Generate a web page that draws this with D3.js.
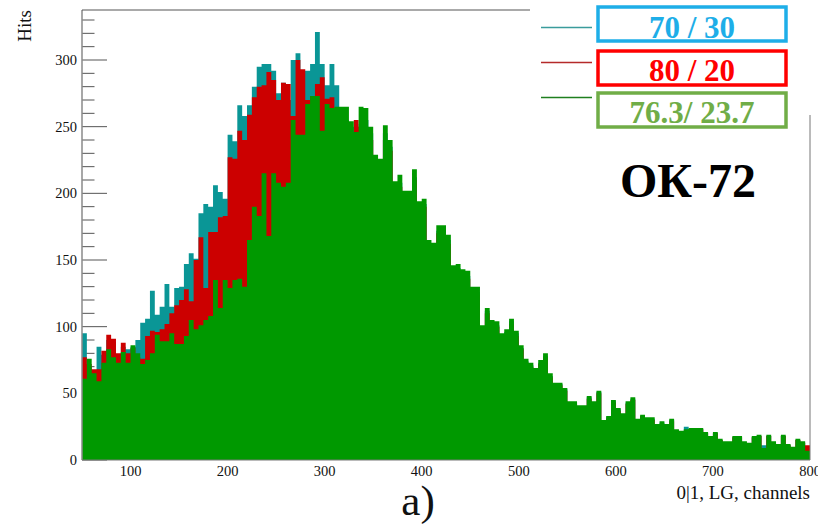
<!DOCTYPE html>
<html><head><meta charset="utf-8">
<script src="https://cdn.jsdelivr.net/npm/d3@7"></script>
<style>
body{margin:0;background:#fff}
svg{display:block}
text{font-family:"Liberation Serif","Times New Roman",serif}
</style>
</head><body>
<svg id="c" width="818" height="526"></svg>
<script>
// ---- data ----
const binLow = 50, binWidth = 5;
const xTicks = [100, 200, 300, 400, 500, 600, 700, 800];
const yMajorTicks = [0, 50, 100, 150, 200, 250, 300];
const seriesNames = ["70 / 30", "80 / 20", "76.3/ 23.7"];
const sampleLabel = "ОК-72";
const xTitle = "0|1, LG, channels";
const yTitle = "Hits";
const panelLabel = "a)";

const teal = [95,70,66,85,79,90,88,77,85,83, 85,90,103,106,127,109,115,132,115,129,
 130,147,155,151,185,192,190,206,201,196, 244,239,266,258,266,280,295,297,297,292,
 275,283,270,300,305,292,292,297,321,297, 281,297,281,262,255,250,250,252,255,245,
 225,222,245,235,205,208,198,200,212,190, 192,162,160,172,170,165,142,144,140,138,
 127,126,99,112,102,101,93,96,104,95, 84,74,71,67,73,78,63,57,57,53,
 43,43,40,40,47,43,51,29,32,44, 38,34,43,46,30,33,31,31,26,28,
 26,30,22,21,25,23,23,23,20,17, 20,15,13,13,17,17,13,12,17,18,
 11,18,13,11,18,11,9,15,13,10];
const red = [77,72,68,68,82,94,91,80,88,80, 84,77,76,93,97,96,98,102,110,116,
 120,128,119,150,167,129,171,171,182,183, 227,226,247,240,259,272,280,281,291,285,
 270,283,282,258,300,293,270,273,282,287, 271,272,260,255,250,246,255,250,250,240,
 220,220,240,232,200,205,195,196,210,188, 190,160,158,170,168,162,140,142,138,136,
 125,124,97,110,100,100,92,94,102,93, 83,73,70,66,72,77,62,56,56,52,
 42,42,39,39,46,42,50,29,31,43, 37,33,42,45,30,33,30,30,26,27,
 26,29,22,21,22,23,23,23,20,17, 20,15,13,13,17,17,13,12,17,18,
 8,18,13,11,18,11,9,15,13,11];
const green = [61,76,65,59,73,83,77,73,81,73, 86,80,72,75,80,94,89,89,95,87,
 87,93,105,98,101,105,108,135,114,135, 129,135,136,130,165,190,183,215,168,215,
 208,205,208,255,244,244,267,273,273,247, 267,264,265,265,265,254,246,265,264,250,
 229,226,251,240,209,214,202,202,218,194, 196,165,163,176,176,169,146,147,143,142,
 130,130,101,114,105,104,95,98,106,97, 86,76,73,69,75,80,65,58,58,54,
 44,44,41,41,48,44,52,30,33,45, 39,35,44,47,31,34,32,32,27,29,
 27,31,23,22,23,24,24,24,21,18, 21,16,14,14,18,18,14,13,18,19,
 9,19,14,12,19,12,10,16,14,7];

// ---- layout ----
const svg = d3.select("#c");
const x = d3.scaleLinear().domain([50, 800]).range([82, 810]);
const y = d3.scaleLinear().domain([0, 337.5]).range([460, 10]);

const fillColors = ["#0a9696", "#cc0000", "#009900"];
const lineColors = ["#3a9c9c", "#b52a2a", "#1f7f1f"];
const boxColors = ["#1eaee8", "#ff0000", "#70ad47"];

// y ticks (under bars)
const minorTicks = d3.range(0, 331, 10);
svg.append("g").selectAll("line").data(minorTicks).join("line")
  .attr("x1", x(50)).attr("x2", d => x(50) + (d % 50 === 0 ? 25 : 12.5))
  .attr("y1", d => y(d)).attr("y2", d => y(d))
  .attr("stroke", "#555").attr("stroke-width", 1);

// histograms
function stepData(vals) {
  const pts = vals.map((v, i) => ({e: binLow + i * binWidth, v}));
  pts.push({e: binLow + vals.length * binWidth, v: vals[vals.length - 1]});
  return pts;
}
const area = d3.area().curve(d3.curveStepAfter)
  .x(d => x(d.e)).y0(y(0)).y1(d => y(d.v));
[teal, red, green].forEach((s, k) => {
  svg.append("path").datum(stepData(s)).attr("d", area)
    .attr("fill", fillColors[k]).attr("stroke", "none");
});

// frame lines
svg.append("line").attr("x1", x(50)).attr("x2", x(50)).attr("y1", 10).attr("y2", 460)
  .attr("stroke", "#8a8a8a").attr("stroke-width", 1.5);
svg.append("line").attr("x1", x(50)).attr("x2", 530).attr("y1", 10).attr("y2", 10)
  .attr("stroke", "#555").attr("stroke-width", 1);
svg.append("line").attr("x1", x(50)).attr("x2", x(800)).attr("y1", 460).attr("y2", 460)
  .attr("stroke", "#777").attr("stroke-width", 1);
svg.append("line").attr("x1", x(800)).attr("x2", x(800)).attr("y1", 115).attr("y2", 460)
  .attr("stroke", "#777").attr("stroke-width", 1);

// y labels
svg.append("g").selectAll("text").data(yMajorTicks).join("text")
  .attr("x", 77).attr("y", d => y(d)).attr("dy", "0.35em")
  .attr("text-anchor", "end").attr("font-size", 14.5).attr("fill", "#111")
  .text(d => d);
// x labels
svg.append("g").selectAll("text").data(xTicks).join("text")
  .attr("x", d => x(d)).attr("y", 476)
  .attr("text-anchor", "middle").attr("font-size", 14.5).attr("fill", "#111")
  .text(d => d);

// titles
svg.append("text").attr("transform", "translate(31,10) rotate(-90)")
  .attr("text-anchor", "end").attr("font-size", 19).attr("fill", "#111").text(yTitle);
svg.append("text").attr("x", 810).attr("y", 499).attr("text-anchor", "end")
  .attr("font-size", 19).attr("fill", "#111").text(xTitle);
svg.append("text").attr("x", 418).attr("y", 515).attr("text-anchor", "middle")
  .attr("font-size", 43).attr("fill", "#111").text(panelLabel);

// legend
const legY = [27.5, 62.5, 97.5];
const boxTop = [7, 51, 93];
const textBase = [38, 81, 123];
seriesNames.forEach((name, k) => {
  svg.append("line").attr("x1", 541).attr("x2", 592).attr("y1", legY[k]).attr("y2", legY[k])
    .attr("stroke", lineColors[k]).attr("stroke-width", 1.5);
  svg.append("rect").attr("x", 598).attr("y", boxTop[k]).attr("width", 188).attr("height", 34)
    .attr("fill", "#fff").attr("stroke", boxColors[k]).attr("stroke-width", 3.5);
  svg.append("text").attr("x", 692).attr("y", textBase[k]).attr("text-anchor", "middle")
    .attr("font-size", 31).attr("font-weight", "bold").attr("fill", boxColors[k]).text(name);
});
svg.append("text").attr("x", 688).attr("y", 197).attr("text-anchor", "middle")
  .attr("font-size", 48).attr("font-weight", "bold").attr("fill", "#000").text(sampleLabel);
</script>
</body></html>
